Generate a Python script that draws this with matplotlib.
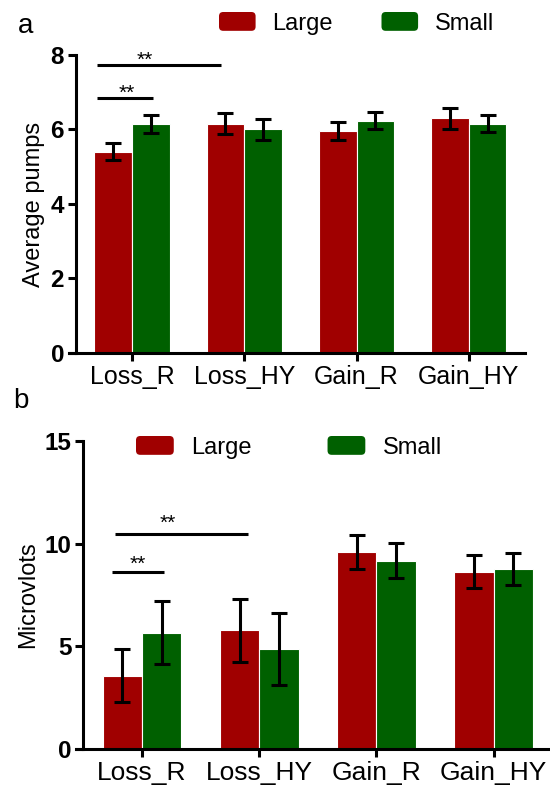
import matplotlib
matplotlib.use('Agg')
import numpy as np
import matplotlib.pyplot as plt
from matplotlib.patches import FancyBboxPatch, Patch
from matplotlib.legend_handler import HandlerPatch

plt.rcParams['font.family'] = ['Liberation Sans', 'DejaVu Sans']

groups = ['Loss_R', 'Loss_HY', 'Gain_R', 'Gain_HY']
series = ['Large', 'Small']
colors = ['#A00000', '#006000']

# panel a: average pumps
pumps_large = [5.40, 6.16, 5.96, 6.30]
pumps_large_err = [0.23, 0.29, 0.24, 0.29]
pumps_small = [6.14, 6.00, 6.24, 6.16]
pumps_small_err = [0.24, 0.27, 0.24, 0.23]

# panel b: microvolts
volts_large = [3.57, 5.78, 9.61, 8.64]
volts_large_err = [1.29, 1.53, 0.83, 0.80]
volts_small = [5.67, 4.86, 9.18, 8.77]
volts_small_err = [1.55, 1.75, 0.84, 0.77]

# significance lines: (x start, x end, line y, star x, star y)
pumps_sig = [(-0.31, 0.19, 6.85, -0.045, 6.83),
             (-0.31, 0.79, 7.73, 0.115, 7.70)]
volts_sig = [(-0.26, 0.19, 8.62, -0.04, 8.72),
             (-0.23, 0.90, 10.47, 0.22, 10.72)]


class RoundHandler(HandlerPatch):
    def create_artists(self, legend, orig_handle, xdescent, ydescent,
                       width, height, fontsize, trans):
        p = FancyBboxPatch((-xdescent, -ydescent), width, height,
                           boxstyle='round,pad=0,rounding_size=3',
                           fc=orig_handle.get_facecolor(), ec='none',
                           transform=trans)
        return [p]


def draw_panel(ax, large, large_err, small, small_err, sig, ymax, yticks,
               ylabel, xlim, xsize):
    # spine position first: moving it resets the tick labels
    ax.spines['top'].set_visible(False)
    ax.spines['right'].set_visible(False)
    ax.spines['left'].set_position(('data', -0.5))
    ax.spines['left'].set_linewidth(2.2)
    ax.spines['bottom'].set_linewidth(2.2)

    x = np.arange(len(groups))
    w = 0.335
    err_kw = dict(ecolor='black', elinewidth=2.2, capsize=6, capthick=2.2)
    ax.bar(x - w / 2, large, w, yerr=large_err, color=colors[0],
           edgecolor='white', linewidth=0.8, error_kw=err_kw, zorder=2)
    ax.bar(x + w / 2, small, w, yerr=small_err, color=colors[1],
           edgecolor='white', linewidth=0.8, error_kw=err_kw, zorder=2)

    for x0, x1, y, sx, sy in sig:
        ax.plot([x0, x1], [y, y], color='black', lw=2.2, solid_capstyle='butt')
        ax.text(sx, sy, '**', ha='center', va='baseline', fontsize=15)

    ax.set_xlim(*xlim)
    ax.set_ylim(0, ymax)
    ax.tick_params(axis='both', width=2.2, length=5.5, pad=3)
    ax.set_yticks(yticks, labels=[str(t) for t in yticks],
                  fontsize=17.5, fontweight='bold')
    ax.set_xticks(x, labels=groups, fontsize=xsize)
    ax.set_ylabel(ylabel, fontsize=17, labelpad=4)


fig = plt.figure(figsize=(5.5, 7.9), dpi=100)

ax1 = fig.add_axes([69 / 550, 1 - 353 / 790, (525 - 69) / 550, (353 - 55) / 790])
draw_panel(ax1, pumps_large, pumps_large_err, pumps_small, pumps_small_err,
           pumps_sig, 8, [0, 2, 4, 6, 8], 'Average pumps', (-0.561, 3.5), 18)

ax2 = fig.add_axes([76 / 550, 1 - 749 / 790, (550 - 76) / 550, (749 - 441) / 790])
draw_panel(ax2, volts_large, volts_large_err, volts_small, volts_small_err,
           volts_sig, 15, [0, 5, 10, 15], 'Microvlots', (-0.563, 3.48), 19)

handles = [Patch(facecolor=c, label=s) for c, s in zip(colors, series)]

ax1.legend(handles=handles, ncol=2, frameon=False, fontsize=17,
           loc='upper left', bbox_to_anchor=(219 / 550, 1 - 12 / 790),
           bbox_transform=fig.transFigure, borderpad=0, borderaxespad=0,
           handlelength=1.55, handleheight=0.85, handletextpad=0.72,
           columnspacing=2.05, handler_map={Patch: RoundHandler()})

ax2.legend(handles=handles, ncol=2, frameon=False, fontsize=17,
           loc='upper left', bbox_to_anchor=(136 / 550, 1 - 436 / 790),
           bbox_transform=fig.transFigure, borderpad=0, borderaxespad=0,
           handlelength=1.6, handleheight=0.85, handletextpad=0.75,
           columnspacing=3.2, handler_map={Patch: RoundHandler()})

fig.text(18 / 550, 1 - 33 / 790, 'a', fontsize=20, va='baseline')
fig.text(13 / 550, 1 - 408 / 790, 'b', fontsize=20, va='baseline')

fig.savefig('out.png', dpi=100)
